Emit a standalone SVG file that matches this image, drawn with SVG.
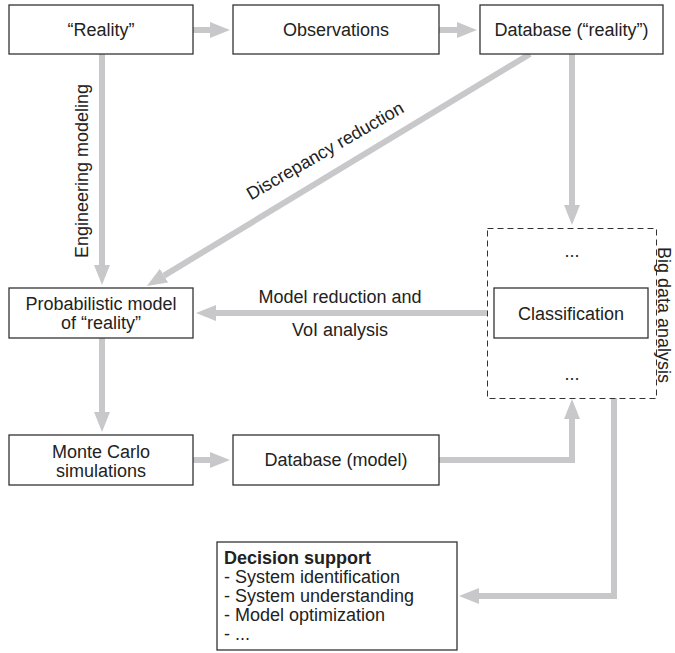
<svg xmlns="http://www.w3.org/2000/svg" width="675" height="653" viewBox="0 0 675 653">
<style>
  .box { fill: #ffffff; stroke: #333333; stroke-width: 1.3; }
  .dash { fill: none; stroke: #333333; stroke-width: 1; stroke-dasharray: 6 4; }
  .t { font-family: "Liberation Sans", Arial, sans-serif; font-size: 18px; fill: #222222; }
  .c { text-anchor: middle; }
  .b { font-weight: bold; }
  .conn { fill: none; stroke: #c8c8ca; stroke-width: 6; stroke-linejoin: miter; marker-end: url(#ah); }
</style>
<defs>
  <marker id="ah" markerUnits="userSpaceOnUse" markerWidth="21" markerHeight="17" refX="0" refY="8" orient="auto" viewBox="0 0 21 17">
    <path d="M0,0 L20,8 L0,16 z" fill="#c8c8ca"/>
  </marker>
</defs>

<g id="connectors">
  <line class="conn" x1="193" y1="30" x2="210" y2="30"/>
  <line class="conn" x1="439" y1="30" x2="457" y2="30"/>
  <line class="conn" x1="102" y1="54" x2="102" y2="265"/>
  <line class="conn" x1="572" y1="54" x2="572" y2="205"/>
  <line class="conn" x1="530" y1="54" x2="164" y2="275.6"/>
  <line class="conn" x1="487" y1="313" x2="216" y2="313"/>
  <line class="conn" x1="102" y1="338" x2="102" y2="412"/>
  <line class="conn" x1="193" y1="460" x2="210" y2="460"/>
  <polyline class="conn" points="439,460 572,460 572,419"/>
  <polyline class="conn" points="614,398 614,596 479,596"/>
  <text class="t c" transform="translate(88,171) rotate(-90)">Engineering modeling</text>
  <text class="t c" transform="translate(328,156) rotate(-30)">Discrepancy reduction</text>
  <text class="t c" x="340" y="303">Model reduction and</text>
  <text class="t c" x="340" y="336">VoI analysis</text>
</g>

<g id="reality">
  <rect class="box" x="9" y="5" width="184" height="49"/>
  <text class="t c" x="101" y="36">“Reality”</text>
</g>
<g id="observations">
  <rect class="box" x="233" y="5" width="206" height="49"/>
  <text class="t c" x="336" y="36">Observations</text>
</g>
<g id="database-reality">
  <rect class="box" x="480" y="5" width="183" height="49"/>
  <text class="t c" x="571.5" y="36">Database (“reality”)</text>
</g>
<g id="probabilistic-model">
  <rect class="box" x="9" y="288" width="184" height="50"/>
  <text class="t c" x="101" y="310">Probabilistic model</text>
  <text class="t c" x="101" y="329">of “reality”</text>
</g>
<g id="big-data-analysis">
  <rect class="dash" x="487.5" y="228.5" width="169" height="170"/>
  <text class="t c" x="572" y="257">...</text>
  <text class="t c" x="572" y="380">...</text>
  <text class="t c" transform="translate(658,315) rotate(90)">Big data analysis</text>
</g>
<g id="classification">
  <rect class="box" x="494" y="288" width="154" height="50"/>
  <text class="t c" x="571" y="320">Classification</text>
</g>
<g id="monte-carlo">
  <rect class="box" x="9" y="435" width="184" height="50"/>
  <text class="t c" x="101" y="458">Monte Carlo</text>
  <text class="t c" x="101" y="477">simulations</text>
</g>
<g id="database-model">
  <rect class="box" x="233" y="435" width="206" height="50"/>
  <text class="t c" x="336" y="466">Database (model)</text>
</g>
<g id="decision-support">
  <rect class="box" x="217" y="542" width="240" height="108"/>
  <text class="t b" x="224" y="564">Decision support</text>
  <text class="t" x="224" y="583">- System identification</text>
  <text class="t" x="224" y="602">- System understanding</text>
  <text class="t" x="224" y="621">- Model optimization</text>
  <text class="t" x="224" y="640">- ...</text>
</g>
</svg>
